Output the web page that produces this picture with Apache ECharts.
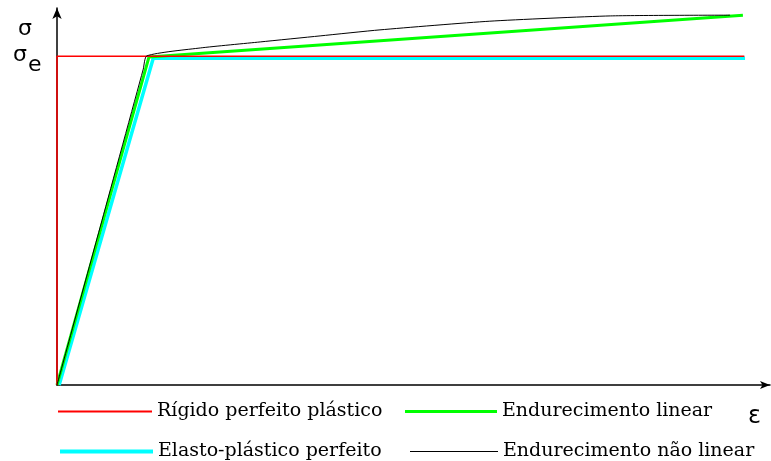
<!DOCTYPE html>
<html>
<head>
<meta charset="utf-8">
<script src="https://cdn.jsdelivr.net/npm/echarts@6/dist/echarts.min.js"></script>
<style>
html, body { margin: 0; padding: 0; background: #fff; }
#chart { width: 771px; height: 461px; }
</style>
</head>
<body>
<div id="chart"></div>
<script>
// nomes das curvas (legenda)
const names = ['Rígido perfeito plástico', 'Elasto-plástico perfeito', 'Endurecimento linear', 'Endurecimento não linear']
// curvas tensão x deformação, pontos [ε, σ] (escala 0..100)
const rigidoPlastico = [[0, 0], [0, 87.2], [96.4, 87.2]]
const elastoPlastico = [[0.3, 0], [13.5, 86.7], [96.5, 86.7]]
const endLinear = [[0, 0], [12.9, 87.0], [96.2, 98.1]]
const endNaoLinear = [[0, 0], [6.3, 43.6], [12.1, 83.8], [12.6, 87.3], [20.1, 89.4], [28.5, 91.0], [36.9, 92.6], [45.3, 94.2], [60.7, 96.5], [77.6, 97.9], [94.4, 98.1]]

const colors = ['#ff0000', '#00ffff', '#00ff00', '#000000']
const widths = [1.5, 3.5, 3, 1]

const chart = echarts.init(document.getElementById('chart'))
const serif = 'DejaVu Serif'

// uma legenda por item, para posicionar em 2 linhas x 2 colunas
function legenda (i, left, top, w) {
  return {
    left: left,
    top: top,
    padding: 0,
    icon: 'rect',
    itemWidth: w,
    itemHeight: Math.max(1, Math.round(widths[i])),
    itemStyle: { color: colors[i] },
    textStyle: { fontFamily: serif, fontSize: 19, color: '#000' },
    data: [names[i]]
  }
}

const option = {
  backgroundColor: '#fff',
  animation: false,
  grid: { left: 57, right: 1, top: 8, bottom: 76 },
  legend: [
    legenda(0, 58, 402, 94),
    legenda(1, 60, 442, 93),
    legenda(2, 405, 402, 92),
    legenda(3, 410, 442, 88)
  ],
  xAxis: {
    type: 'value',
    min: 0,
    max: 100,
    axisLine: { show: true, onZero: false, symbol: ['none', 'arrow'], symbolSize: [6, 10], lineStyle: { color: '#000', width: 1.5 } },
    axisTick: { show: false },
    axisLabel: { show: false },
    splitLine: { show: false }
  },
  yAxis: {
    type: 'value',
    min: 0,
    max: 100,
    axisLine: { show: true, onZero: false, symbol: ['none', 'arrow'], symbolSize: [7, 11], lineStyle: { color: '#000', width: 1.5 } },
    axisTick: { show: false },
    axisLabel: { show: false },
    splitLine: { show: false }
  },
  graphic: [
    { type: 'text', left: 18, top: 18, style: { text: 'σ', fontFamily: 'DejaVu Sans', fontSize: 22, fill: '#000' } },
    { type: 'text', left: 13, top: 44, style: { text: 'σ', fontFamily: 'DejaVu Sans', fontSize: 22, fill: '#000' } },
    { type: 'text', left: 28, top: 54, style: { text: 'e', fontFamily: 'DejaVu Sans', fontSize: 22, fill: '#000' } },
    { type: 'text', left: 748, top: 405, style: { text: 'ε', fontFamily: 'DejaVu Sans', fontSize: 24, fill: '#000' } }
  ],
  series: [{
    type: 'line',
    name: names[1],
    symbol: 'none',
    color: colors[1],
    lineStyle: { color: colors[1], width: widths[1] },
    data: elastoPlastico
  }, {
    type: 'line',
    name: names[2],
    symbol: 'none',
    color: colors[2],
    lineStyle: { color: colors[2], width: widths[2] },
    data: endLinear
  }, {
    type: 'line',
    name: names[0],
    symbol: 'none',
    color: colors[0],
    lineStyle: { color: colors[0], width: widths[0] },
    data: rigidoPlastico
  }, {
    type: 'line',
    name: names[3],
    symbol: 'none',
    smooth: 0.2,
    color: colors[3],
    lineStyle: { color: colors[3], width: widths[3] },
    data: endNaoLinear
  }]
}
chart.setOption(option)
</script>
</body>
</html>
